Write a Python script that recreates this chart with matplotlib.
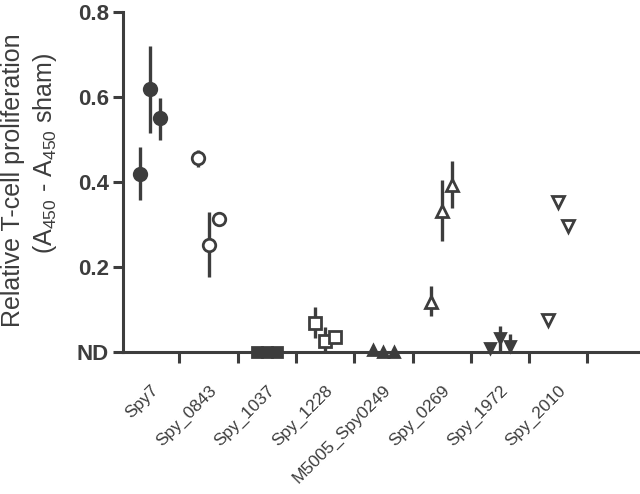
import numpy as np
import matplotlib
matplotlib.use("Agg")
import matplotlib.pyplot as plt

plt.rcParams['font.family'] = ['Liberation Sans', 'DejaVu Sans']
plt.rcParams['mathtext.fontset'] = 'custom'
plt.rcParams['mathtext.rm'] = 'Liberation Sans'

################################################################################
## Data
################################################################################
categories = ["Spy7", "Spy_0843", "Spy_1037", "Spy_1228",
              "M5005_Spy0249", "Spy_0269", "Spy_1972", "Spy_2010"]

# three replicates per antigen: mean, lower and upper end of error bar
means = [[0.420, 0.619, 0.551],
         [0.456, 0.252, 0.313],
         [0.0, 0.0, 0.0],
         [0.068, 0.026, 0.036],
         [0.005, 0.0, 0.0],
         [0.118, 0.331, 0.393],
         [0.010, 0.033, 0.014],
         [0.075, 0.353, 0.296]]
lows = [[0.358, 0.515, 0.499],
        [0.435, 0.177, 0.313],
        [0.0, 0.0, 0.0],
        [0.033, 0.0, 0.036],
        [0.005, 0.0, 0.0],
        [0.085, 0.261, 0.339],
        [0.010, 0.0, 0.0],
        [0.075, 0.353, 0.290]]
highs = [[0.482, 0.720, 0.598],
         [0.475, 0.330, 0.313],
         [0.0, 0.0, 0.0],
         [0.106, 0.060, 0.036],
         [0.005, 0.0, 0.0],
         [0.155, 0.405, 0.449],
         [0.010, 0.061, 0.042],
         [0.075, 0.353, 0.305]]

# marker style per antigen (shape, filled)
markers = ["o", "o", "s", "s", "^", "^", "v", "v"]
filled = [True, False, True, False, True, False, True, False]
msizes = [9, 9, 6.5, 9, 7, 9, 7, 9]

################################################################################
## Plot
################################################################################
dark = "#3d3d3d"
fig = plt.figure(figsize=(6.4, 4.94), dpi=100)
ax = fig.add_axes([0.192, 0.287, 0.805, 0.689])

offsets = [-0.175, 0.0, 0.175]
for i in range(len(categories)):
    for j in range(3):
        x = i + offsets[j]
        m = means[i][j]
        lo, hi = lows[i][j], highs[i][j]
        if hi > lo:
            ax.plot([x, x], [lo, hi], color=dark, lw=2.4, zorder=2,
                    solid_capstyle="butt", clip_on=False)
        ax.plot(x, m, marker=markers[i], ms=msizes[i],
                mfc=dark if filled[i] else "white", mec=dark, mew=2.0,
                ls="none", zorder=3, clip_on=False)

ax.set_xlim(-0.47, 8.37)
ax.set_ylim(0, 0.8)

ax.spines["top"].set_visible(False)
ax.spines["right"].set_visible(False)
for s in ["left", "bottom"]:
    ax.spines[s].set_linewidth(2.2)
    ax.spines[s].set_color(dark)

ax.set_yticks([0, 0.2, 0.4, 0.6, 0.8])
ax.set_yticklabels(["ND", "0.2", "0.4", "0.6", "0.8"],
                   fontsize=16, fontweight="bold", color=dark)
ax.tick_params(axis="y", length=7, width=2.2, color=dark, pad=3)

ax.set_xticks(np.arange(len(categories)))
ax.set_xticklabels(categories, rotation=45, ha="right",
                   rotation_mode="anchor", fontsize=12.5, color=dark)
ax.tick_params(axis="x", which="major", length=0, pad=22)
ax.set_xticks(np.arange(len(categories)) + 0.5, minor=True)
ax.tick_params(axis="x", which="minor", length=8, width=2.2, color=dark)

# two-line y label, placed line by line as in the reference
fig.text(0.020, 0.635, "Relative T-cell proliferation", rotation=90,
         ha="center", va="center", fontsize=18, color=dark)
fig.text(0.070, 0.69, "(A$_{450}$ - A$_{450}$ sham)", rotation=90,
         ha="center", va="center", fontsize=18, color=dark)

fig.savefig("out.png", dpi=100)
